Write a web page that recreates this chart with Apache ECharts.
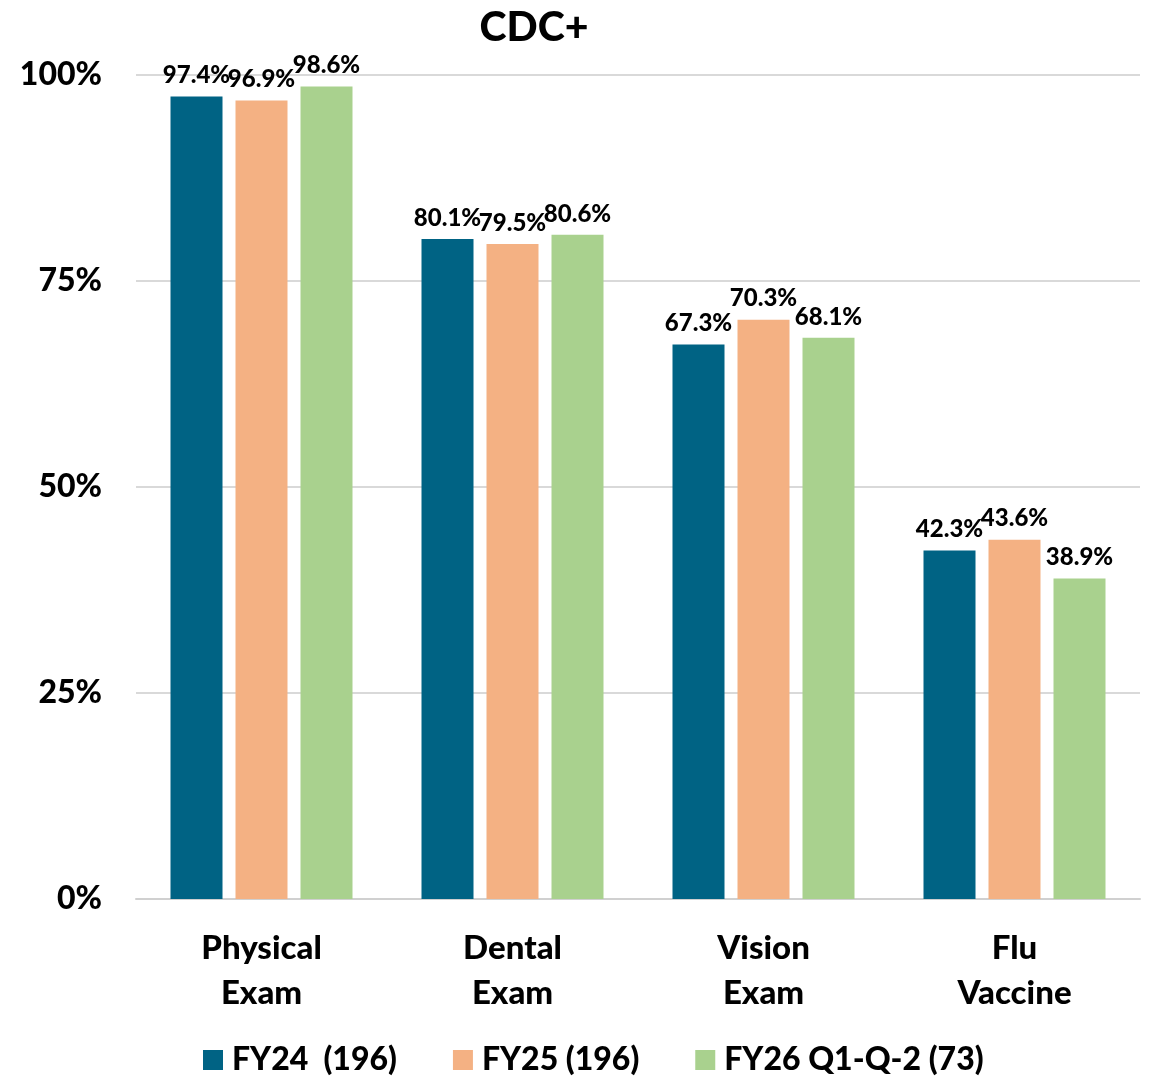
<!DOCTYPE html>
<html>
<head>
<meta charset="utf-8">
<script src="https://cdn.jsdelivr.net/npm/echarts@6/dist/echarts.min.js"></script>
<style>
html,body{margin:0;padding:0;background:#fff;}
#chart{width:1152px;height:1083px;}
</style>
</head>
<body>
<div id="chart"></div>
<script>
const categories = ['Physical\nExam', 'Dental\nExam', 'Vision\nExam', 'Flu\nVaccine'];
const seriesNames = ['FY24  (196)', 'FY25 (196)', 'FY26 Q1-Q-2 (73)'];
const fy24 = [97.4, 80.1, 67.3, 42.3];
const fy25 = [96.9, 79.5, 70.3, 43.6];
const fy26 = [98.6, 80.6, 68.1, 38.9];
const yTicks = [0, 25, 50, 75, 100];

const colors = ['#006384', '#F4B183', '#A9D18E'];
const FONT = "Lato, 'Open Sans', sans-serif";

const chart = echarts.init(document.getElementById('chart'));
const mk = (name, data, color) => ({
  name: name,
  type: 'bar',
  data: data,
  barWidth: 52,
  barGap: '25%',
  itemStyle: { color: color },
  label: {
    show: true,
    position: 'top',
    distance: 9,
    formatter: p => p.value.toFixed(1) + '%',
    fontFamily: FONT,
    fontWeight: 900,
    fontSize: 24,
    color: '#000'
  }
});
chart.setOption({
  animation: false,
  title: {
    text: 'CDC+',
    left: 529,
    textAlign: 'center',
    top: 2,
    textStyle: { fontFamily: FONT, fontWeight: 900, fontSize: 41, color: '#000' }
  },
  legend: {
    bottom: 2,
    left: 198,
    itemWidth: 20,
    itemHeight: 20,
    itemGap: 56,
    icon: 'rect',
    textStyle: { fontFamily: FONT, fontWeight: 900, fontSize: 32, color: '#000', padding: [0, 0, 0, 4] },
    data: seriesNames
  },
  grid: { left: 136, right: 12, top: 75, bottom: 184, containLabel: false },
  xAxis: {
    type: 'category',
    data: categories,
    axisLine: { show: true, lineStyle: { color: '#d0d0d0', width: 2 } },
    axisTick: { show: false },
    axisLabel: {
      margin: 27,
      fontFamily: FONT,
      fontWeight: 900,
      fontSize: 33,
      lineHeight: 45,
      color: '#000'
    }
  },
  yAxis: {
    type: 'value',
    min: 0,
    max: 100,
    interval: 25,
    axisLine: { show: false },
    axisTick: { show: false },
    splitLine: { lineStyle: { color: '#d9d9d9', width: 2 } },
    axisLabel: {
      margin: 34,
      fontFamily: FONT,
      fontWeight: 900,
      fontSize: 32,
      color: '#000',
      formatter: v => yTicks.includes(v) ? v + '%' : ''
    }
  },
  series: [
    mk(seriesNames[0], fy24, colors[0]),
    mk(seriesNames[1], fy25, colors[1]),
    mk(seriesNames[2], fy26, colors[2])
  ]
});
</script>
</body>
</html>
